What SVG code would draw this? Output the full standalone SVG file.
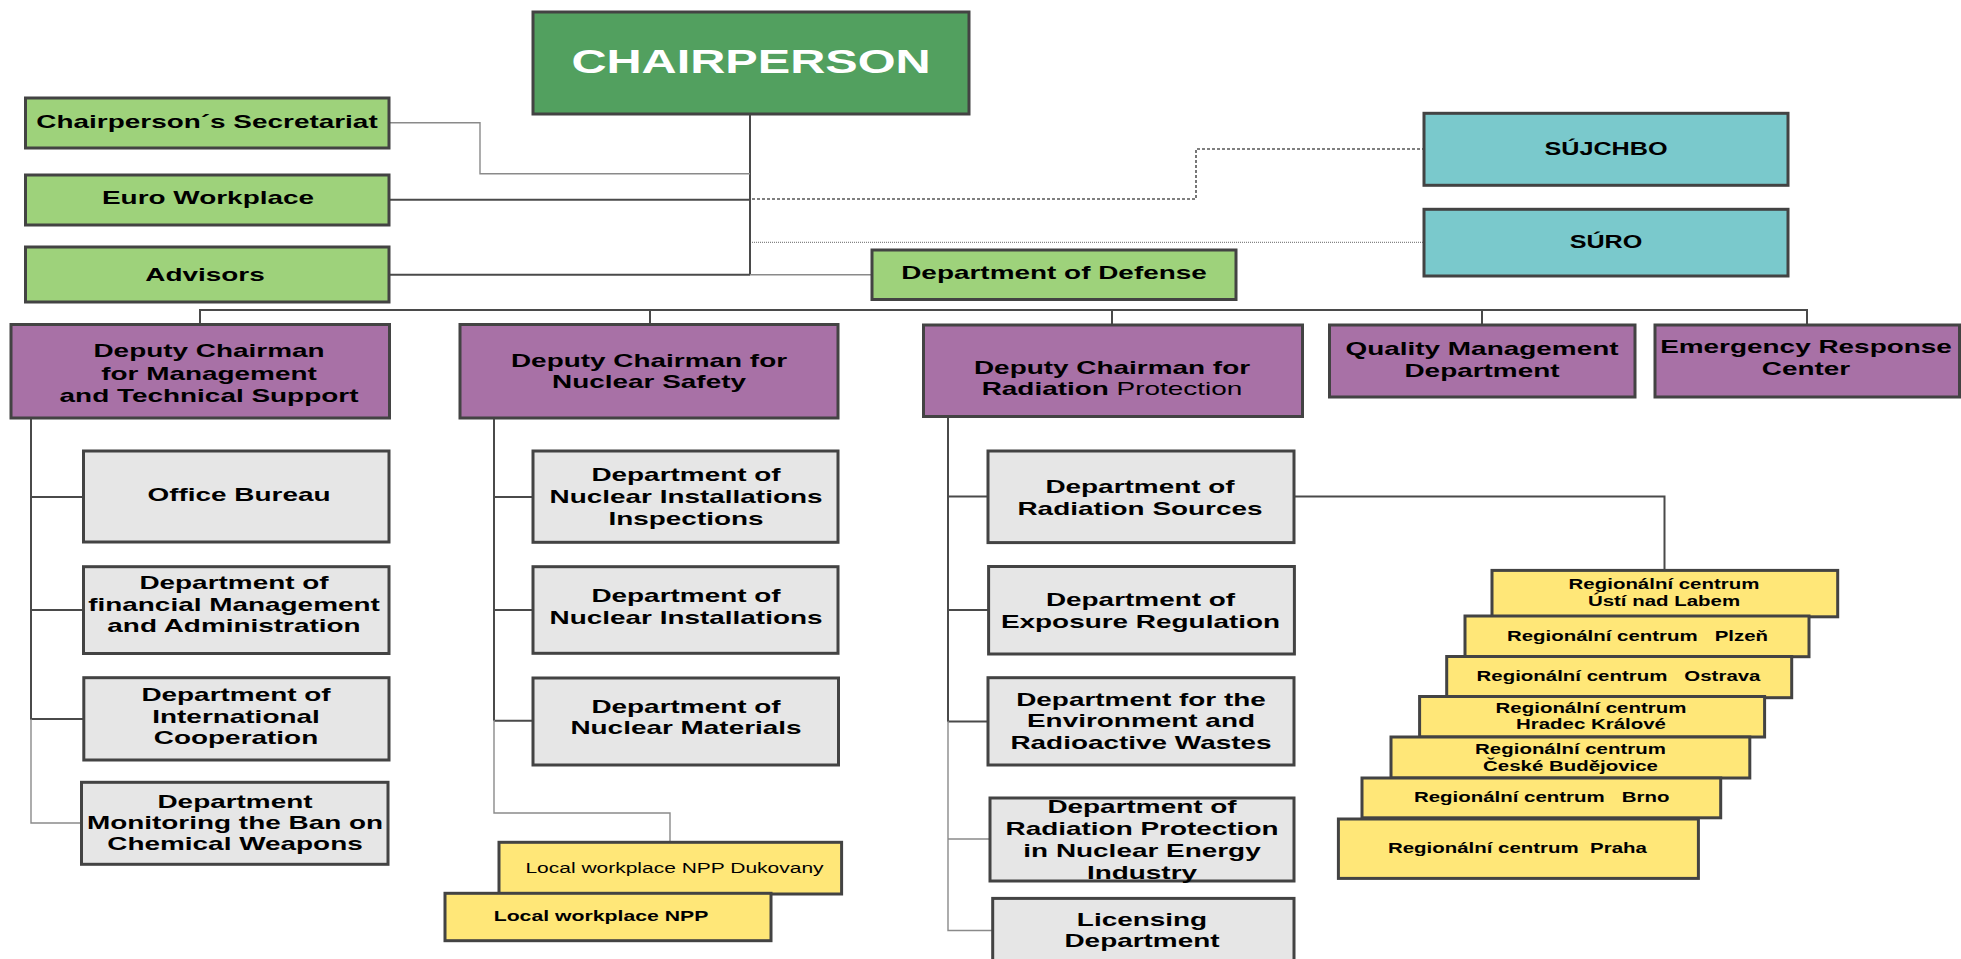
<svg xmlns="http://www.w3.org/2000/svg" width="1961" height="959" viewBox="0 0 1961 959">
<style>
text{font-family:"Liberation Sans",Arial,sans-serif;font-weight:bold;font-size:19px;fill:#000;text-anchor:middle}
.box{stroke:#434343;stroke-width:3}
.chair{fill:#52a05f}
.lg{fill:#9ed27b}
.teal{fill:#7ac9cc}
.pur{fill:#a871a6}
.gr{fill:#e6e6e6}
.yel{fill:#ffe778}
.c{fill:none;stroke:#4a4a4a;stroke-width:2}
.cl{fill:none;stroke:#8a8a8a;stroke-width:1.4}
.dash{fill:none;stroke:#555;stroke-width:1.6;stroke-dasharray:3 2}
.dot{fill:none;stroke:#666;stroke-width:1;stroke-dasharray:1 1}
.reg{font-size:14.5px}
</style>
<g id="connectors">
<path class="c" d="M750,114 V275"/>
<path class="cl" d="M389,122.7 H480 V173.7 H750"/>
<path class="c" d="M389,199.7 H750"/>
<path class="c" d="M389,274.7 H750"/>
<path class="cl" d="M750,274.7 H872"/>
<path class="dash" d="M752,199 H1196 V149 H1424"/>
<path class="dot" d="M752,242.3 H1424"/>
<path class="c" d="M200,310 H1807 M200,309 V324 M650,309 V324 M1112,309 V324 M1482,309 V324 M1807,309 V324"/>
<path class="c" d="M31,418 V720 M31,497 H83 M31,610 H83 M31,719 H83"/>
<path class="cl" d="M31,719 V823 H81"/>
<path class="c" d="M494,418 V721 M494,497 H533 M494,610 H533 M494,720.7 H533"/>
<path class="cl" d="M494,720 V813 H670 V842"/>
<path class="c" d="M948,417 V722 M948,496.6 H988 M948,610 H988 M948,721.6 H988"/>
<path class="cl" d="M948,721 V930.5 H992 M948,839 H990"/>
<path class="c" d="M1294,496.6 H1664.5 V570.4"/>
</g>
<g id="chairperson"><rect class="box chair" x="533" y="12" width="436" height="102"/>
<text transform="translate(751 0) scale(1.43 1)" style="font-size:34px;fill:#fff"><tspan x="0" y="72.7">CHAIRPERSON</tspan></text></g>
<g id="secretariat"><rect class="box lg" x="25.5" y="98" width="363.5" height="50"/>
<text transform="translate(207 0) scale(1.47 1)"><tspan x="0" y="127.7">Chairperson´s Secretariat</tspan></text></g>
<g id="euro"><rect class="box lg" x="25.5" y="175" width="363.5" height="50"/>
<text transform="translate(208 0) scale(1.47 1)"><tspan x="0" y="204.3">Euro Workplace</tspan></text></g>
<g id="advisors"><rect class="box lg" x="25.5" y="247" width="363.5" height="55"/>
<text transform="translate(205 0) scale(1.47 1)"><tspan x="0" y="281">Advisors</tspan></text></g>
<g id="defense"><rect class="box lg" x="872" y="250" width="364" height="49.5"/>
<text transform="translate(1054 0) scale(1.47 1)"><tspan x="0" y="279">Department of Defense</tspan></text></g>
<g id="sujchbo"><rect class="box teal" x="1424" y="113.3" width="364" height="72"/>
<text transform="translate(1606 0) scale(1.4 1)" style="font-size:18px"><tspan x="0" y="154.7">SÚJCHBO</tspan></text></g>
<g id="suro"><rect class="box teal" x="1424" y="209.3" width="364" height="66.7"/>
<text transform="translate(1606 0) scale(1.4 1)" style="font-size:18px"><tspan x="0" y="247.7">SÚRO</tspan></text></g>
<g id="dep-mgmt"><rect class="box pur" x="11" y="324.5" width="378.5" height="93.5"/>
<text transform="translate(209 0) scale(1.47 1)"><tspan x="0" y="357.3">Deputy Chairman</tspan><tspan x="0" y="380">for Management</tspan><tspan x="0" y="402">and Technical Support</tspan></text></g>
<g id="dep-safety"><rect class="box pur" x="460" y="324.5" width="378" height="93.5"/>
<text transform="translate(649 0) scale(1.47 1)"><tspan x="0" y="367">Deputy Chairman for</tspan><tspan x="0" y="388.5">Nuclear Safety</tspan></text></g>
<g id="dep-rad"><rect class="box pur" x="923.5" y="325" width="379" height="91.5"/>
<text transform="translate(1112 0) scale(1.47 1)"><tspan x="0" y="374">Deputy Chairman for</tspan><tspan x="0" y="395.3">Radiation <tspan style="font-weight:normal">Protection</tspan></tspan></text></g>
<g id="quality"><rect class="box pur" x="1329.5" y="325" width="305.5" height="72"/>
<text transform="translate(1482 0) scale(1.47 1)"><tspan x="0" y="355.3">Quality Management</tspan><tspan x="0" y="377.3">Department</tspan></text></g>
<g id="emergency"><rect class="box pur" x="1655" y="325" width="304.5" height="72"/>
<text transform="translate(1806 0) scale(1.47 1)"><tspan x="0" y="353">Emergency Response</tspan><tspan x="0" y="374.7">Center</tspan></text></g>
<g id="office-bureau"><rect class="box gr" x="83.5" y="451" width="305.5" height="91"/>
<text transform="translate(239 0) scale(1.47 1)"><tspan x="0" y="501">Office Bureau</tspan></text></g>
<g id="financial"><rect class="box gr" x="83.5" y="566.7" width="305.5" height="86.8"/>
<text transform="translate(234 0) scale(1.47 1)"><tspan x="0" y="589">Department of</tspan><tspan x="0" y="610.7">financial Management</tspan><tspan x="0" y="632.3">and Administration</tspan></text></g>
<g id="international"><rect class="box gr" x="83.8" y="677.7" width="305.2" height="82.3"/>
<text transform="translate(236 0) scale(1.47 1)"><tspan x="0" y="701">Department of</tspan><tspan x="0" y="722.7">International</tspan><tspan x="0" y="744.3">Cooperation</tspan></text></g>
<g id="monitoring"><rect class="box gr" x="81.5" y="782.3" width="306.5" height="82"/>
<text transform="translate(235 0) scale(1.47 1)"><tspan x="0" y="807.7">Department</tspan><tspan x="0" y="829.3">Monitoring the Ban on</tspan><tspan x="0" y="850">Chemical Weapons</tspan></text></g>
<g id="inspections"><rect class="box gr" x="533" y="451" width="305" height="91.3"/>
<text transform="translate(686 0) scale(1.47 1)"><tspan x="0" y="481">Department of</tspan><tspan x="0" y="503.3">Nuclear Installations</tspan><tspan x="0" y="525">Inspections</tspan></text></g>
<g id="installations"><rect class="box gr" x="533" y="566.7" width="305" height="86.6"/>
<text transform="translate(686 0) scale(1.47 1)"><tspan x="0" y="601.7">Department of</tspan><tspan x="0" y="624">Nuclear Installations</tspan></text></g>
<g id="materials"><rect class="box gr" x="533" y="678" width="305.5" height="87"/>
<text transform="translate(686 0) scale(1.47 1)"><tspan x="0" y="713.3">Department of</tspan><tspan x="0" y="734.3">Nuclear Materials</tspan></text></g>
<g id="dukovany"><rect class="box yel" x="499" y="842.3" width="342.6" height="51.7"/>
<text transform="translate(674.5 0) scale(1.4 1)" style="font-size:15px;font-weight:normal"><tspan x="0" y="873.3">Local workplace NPP Dukovany</tspan></text></g>
<g id="npp"><rect class="box yel" x="445" y="893.3" width="326" height="47.4"/>
<text transform="translate(601 0) scale(1.37 1)" style="font-size:15.5px"><tspan x="0" y="921">Local workplace NPP</tspan></text></g>
<g id="rad-sources"><rect class="box gr" x="988" y="451" width="306" height="91.6"/>
<text transform="translate(1140 0) scale(1.47 1)"><tspan x="0" y="493.4">Department of</tspan><tspan x="0" y="514.8">Radiation Sources</tspan></text></g>
<g id="exposure"><rect class="box gr" x="988.6" y="566.5" width="305.8" height="87.5"/>
<text transform="translate(1140.5 0) scale(1.47 1)"><tspan x="0" y="606">Department of</tspan><tspan x="0" y="628.2">Exposure Regulation</tspan></text></g>
<g id="environment"><rect class="box gr" x="988" y="677.7" width="306" height="87.3"/>
<text transform="translate(1141 0) scale(1.47 1)"><tspan x="0" y="705.9">Department for the</tspan><tspan x="0" y="727.3">Environment and</tspan><tspan x="0" y="748.7">Radioactive Wastes</tspan></text></g>
<g id="rp-energy"><rect class="box gr" x="990" y="798" width="304" height="83"/>
<text transform="translate(1142 0) scale(1.47 1)"><tspan x="0" y="813.5">Department of</tspan><tspan x="0" y="835">Radiation Protection</tspan><tspan x="0" y="857.4">in Nuclear Energy</tspan><tspan x="0" y="879.5">Industry</tspan></text></g>
<g id="licensing"><rect class="box gr" x="992.7" y="898.4" width="301.3" height="80"/>
<text transform="translate(1142 0) scale(1.47 1)"><tspan x="0" y="925.8">Licensing</tspan><tspan x="0" y="947.2">Department</tspan></text></g>
<g id="rc-usti"><rect class="box yel" x="1492" y="570.4" width="345.7" height="46.4"/>
<text class="reg" transform="translate(1664 0) scale(1.41 1)"><tspan x="0" y="589">Regionální centrum</tspan><tspan x="0" y="605.7">Ústí nad Labem</tspan></text></g>
<g id="rc-plzen"><rect class="box yel" x="1465" y="616" width="344" height="40.7"/>
<text class="reg" xml:space="preserve" transform="translate(1637.5 0) scale(1.41 1)"><tspan x="0" y="641">Regionální centrum   Plzeň</tspan></text></g>
<g id="rc-ostrava"><rect class="box yel" x="1446.7" y="656.5" width="345" height="41.2"/>
<text class="reg" xml:space="preserve" transform="translate(1618.5 0) scale(1.41 1)"><tspan x="0" y="681">Regionální centrum   Ostrava</tspan></text></g>
<g id="rc-hradec"><rect class="box yel" x="1419.6" y="696.5" width="345" height="40.5"/>
<text class="reg" transform="translate(1591 0) scale(1.41 1)"><tspan x="0" y="712.7">Regionální centrum</tspan><tspan x="0" y="729">Hradec Králové</tspan></text></g>
<g id="rc-cb"><rect class="box yel" x="1391" y="737" width="358.8" height="41"/>
<text class="reg" transform="translate(1570.5 0) scale(1.41 1)"><tspan x="0" y="754">Regionální centrum</tspan><tspan x="0" y="770.8">České Budějovice</tspan></text></g>
<g id="rc-brno"><rect class="box yel" x="1362" y="778" width="358.7" height="39.8"/>
<text class="reg" xml:space="preserve" transform="translate(1541.7 0) scale(1.41 1)"><tspan x="0" y="802.1">Regionální centrum   Brno</tspan></text></g>
<g id="rc-praha"><rect class="box yel" x="1338.4" y="819" width="360" height="59.4"/>
<text class="reg" xml:space="preserve" transform="translate(1517.4 0) scale(1.41 1)"><tspan x="0" y="852.8">Regionální centrum  Praha</tspan></text></g>
</svg>
